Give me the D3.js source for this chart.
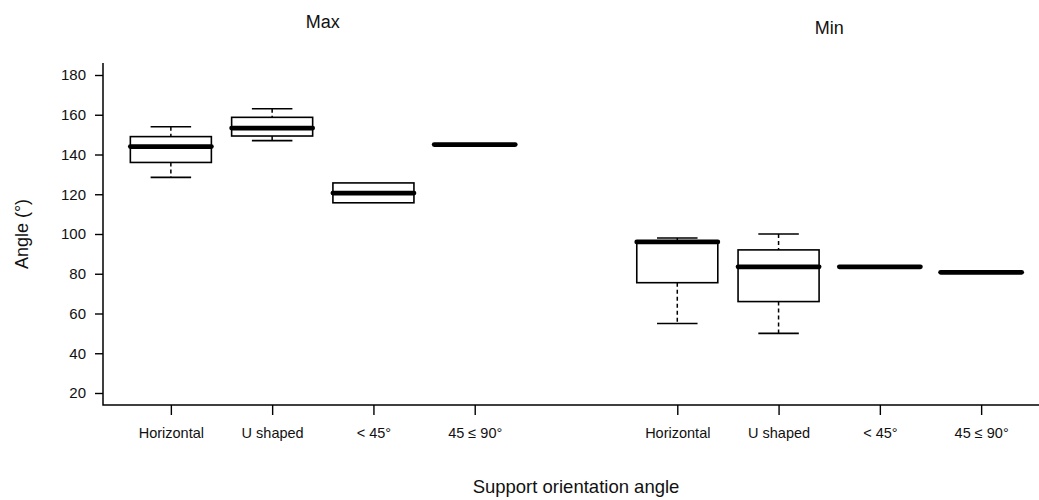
<!DOCTYPE html>
<html>
<head>
<meta charset="utf-8">
<script src="https://cdn.jsdelivr.net/npm/d3@7"></script>
<style>
  html, body { margin: 0; padding: 0; background: #fff; }
  svg { display: block; font-family: "Liberation Sans", Arial, sans-serif; }
</style>
</head>
<body>
<svg id="chart" width="1039" height="500"></svg>
<script>
// ---- data ----
const categories = ["Horizontal", "U shaped", "< 45°", "45 ≤ 90°"];
const groups = ["Max", "Min"];
const positions = [1, 2, 3, 4, 6, 7, 8, 9];
const tickLabels = ["Horizontal", "U shaped", "< 45°", "45 ≤ 90°", "Horizontal", "U shaped", "< 45°", "45 ≤ 90°"];
const whiskerLow  = [128.5, 147.0, 115.7, 145.0, 55.0, 50.0, 83.5, 80.7];
const q1          = [136.0, 149.3, 115.7, 145.0, 75.5, 66.0, 83.5, 80.7];
const median      = [144.0, 153.3, 120.6, 145.0, 96.0, 83.5, 83.5, 80.7];
const q3          = [149.0, 158.7, 125.7, 145.0, 96.5, 92.0, 83.5, 80.7];
const whiskerHigh = [154.0, 163.0, 125.7, 145.0, 98.0, 100.0, 83.5, 80.7];
const yTicks = [20, 40, 60, 80, 100, 120, 140, 160, 180];
const yLabel = "Angle (°)";
const xLabel = "Support orientation angle";

// ---- scales ----
const svg = d3.select("#chart");
const x = d3.scaleLinear().domain([0.33, 9.67]).range([103, 1049]);
const y = d3.scaleLinear().domain([20, 180]).range([393, 75]);
const plotTop = 63, plotBottom = 405, plotLeft = 103;

const boxW = x(0.8) - x(0);
const stapleW = x(0.4) - x(0);

const data = positions.map((p, i) => ({
  pos: p, lo: whiskerLow[i], q1: q1[i], med: median[i], q3: q3[i], hi: whiskerHigh[i]
}));

// ---- axes ----
const yAxis = svg.append("g")
  .attr("transform", `translate(${plotLeft},0)`)
  .call(d3.axisLeft(y).tickValues(yTicks).tickSize(8).tickPadding(9));
yAxis.select(".domain").remove();
yAxis.selectAll("line").attr("stroke", "#000").attr("stroke-width", 1.4);
yAxis.selectAll("text").attr("font-size", 15).attr("fill", "#111")
  .attr("font-family", "Liberation Sans, Arial, sans-serif");

const xAxis = svg.append("g")
  .attr("transform", `translate(0,${plotBottom})`)
  .call(d3.axisBottom(x).tickValues(positions)
    .tickFormat((d, i) => tickLabels[i]).tickSize(10).tickPadding(13));
xAxis.select(".domain").remove();
xAxis.selectAll("line").attr("stroke", "#000").attr("stroke-width", 1.4);
xAxis.selectAll("text").attr("font-size", 14.5).attr("fill", "#111")
  .attr("font-family", "Liberation Sans, Arial, sans-serif");

// L-shaped frame
svg.append("path")
  .attr("d", `M${plotLeft},${plotTop}V${plotBottom}H1039`)
  .attr("fill", "none").attr("stroke", "#000").attr("stroke-width", 1.5);

// ---- boxes ----
const g = svg.append("g");
const b = g.selectAll("g.box").data(data).join("g").attr("class", "box");

// whiskers (dashed)
b.append("line")
  .attr("x1", d => x(d.pos)).attr("x2", d => x(d.pos))
  .attr("y1", d => y(d.hi)).attr("y2", d => y(d.q3))
  .attr("stroke", "#000").attr("stroke-width", 1.5).attr("stroke-dasharray", "4,3");
b.append("line")
  .attr("x1", d => x(d.pos)).attr("x2", d => x(d.pos))
  .attr("y1", d => y(d.q1)).attr("y2", d => y(d.lo))
  .attr("stroke", "#000").attr("stroke-width", 1.5).attr("stroke-dasharray", "4,3");
// staples
b.filter(d => d.hi > d.q3).append("line")
  .attr("x1", d => x(d.pos) - stapleW / 2).attr("x2", d => x(d.pos) + stapleW / 2)
  .attr("y1", d => y(d.hi)).attr("y2", d => y(d.hi))
  .attr("stroke", "#000").attr("stroke-width", 1.6);
b.filter(d => d.lo < d.q1).append("line")
  .attr("x1", d => x(d.pos) - stapleW / 2).attr("x2", d => x(d.pos) + stapleW / 2)
  .attr("y1", d => y(d.lo)).attr("y2", d => y(d.lo))
  .attr("stroke", "#000").attr("stroke-width", 1.6);
// box
b.filter(d => d.q3 > d.q1).append("rect")
  .attr("x", d => x(d.pos) - boxW / 2).attr("width", boxW)
  .attr("y", d => y(d.q3)).attr("height", d => y(d.q1) - y(d.q3))
  .attr("fill", "#fff").attr("stroke", "#000").attr("stroke-width", 1.6);
// median
b.append("line")
  .attr("x1", d => x(d.pos) - boxW / 2).attr("x2", d => x(d.pos) + boxW / 2)
  .attr("y1", d => y(d.med)).attr("y2", d => y(d.med))
  .attr("stroke", "#000").attr("stroke-width", 4.8).attr("stroke-linecap", "round");

// ---- titles ----
const groupCenters = [x((1 + 4) / 2), x((6 + 9) / 2)];
const titleY = [28, 34];
svg.selectAll("text.gtitle").data(groups).join("text")
  .attr("class", "gtitle")
  .attr("x", (d, i) => groupCenters[i]).attr("y", (d, i) => titleY[i])
  .attr("text-anchor", "middle").attr("font-size", 18).attr("fill", "#111")
  .text(d => d);

svg.append("text")
  .attr("transform", `translate(28,${(plotTop + plotBottom) / 2}) rotate(-90)`)
  .attr("text-anchor", "middle").attr("font-size", 18).attr("fill", "#111")
  .text(yLabel);

svg.append("text")
  .attr("x", x(5)).attr("y", 493)
  .attr("text-anchor", "middle").attr("font-size", 18.5).attr("fill", "#111")
  .text(xLabel);
</script>
</body>
</html>
